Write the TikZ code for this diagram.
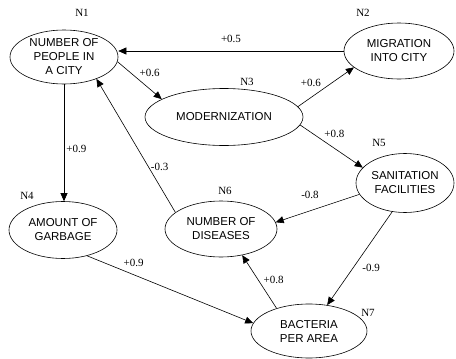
\documentclass[tikz,border=0pt]{standalone}
\usepackage{fontspec}
\setmainfont{Liberation Serif}
\setsansfont{Liberation Sans}
\usetikzlibrary{shapes.geometric, arrows.meta}

\begin{document}
\begin{tikzpicture}[
    x=1pt, y=-1pt,
    box/.style={ellipse, draw, line width=0.6pt, inner sep=0pt, align=center,
        font=\sffamily\fontsize{11.5}{14}\selectfont},
    tag/.style={inner sep=0pt, font=\rmfamily\fontsize{11}{13}\selectfont},
    weight/.style={inner sep=2pt, font=\rmfamily\fontsize{11}{13}\selectfont},
    link/.style={draw, line width=0.6pt, -{Triangle[length=8pt,width=7pt]}}
]
\path[use as bounding box, fill=white] (0,0) rectangle (456,359);

% factors
\node[box, minimum width=108pt, minimum height=54pt] (n1) at (64,57) {NUMBER OF\\PEOPLE IN\\A CITY};
\node[box, minimum width=110pt, minimum height=56pt] (n2) at (399,51) {MIGRATION\\INTO CITY};
\node[box, minimum width=158pt, minimum height=57pt] (n3) at (224,117) {MODERNIZATION};
\node[box, minimum width=108pt, minimum height=57pt] (n4) at (63,230) {AMOUNT OF\\GARBAGE};
\node[box, minimum width=98pt, minimum height=59pt] (n5) at (405,183) {SANITATION\\FACILITIES};
\node[box, minimum width=112pt, minimum height=56pt] (n6) at (221,229) {NUMBER OF\\DISEASES};
\node[box, minimum width=116pt, minimum height=54pt] (n7) at (309,331) {BACTERIA\\PER AREA};

% node numbers
\node[tag] (t1) at (82,13) {N1};
\node[tag] (t2) at (363,13) {N2};
\node[tag] (t3) at (247,82) {N3};
\node[tag] (t4) at (27,196) {N4};
\node[tag] (t5) at (379,143) {N5};
\node[tag] (t6) at (225,191) {N6};
\node[tag] (t7) at (368,313) {N7};

% weighted links
\draw[link] (n2.west) -- node[weight, above=6pt] {+0.5} (n2.west -| n1.east);
\draw[link] (n1.-5.6) -- node[weight, pos=.45, above right] {+0.6} (n3.164);
\draw[link] (n3.8.5) -- node[weight, pos=.45, above left] {+0.6} (n2.200);
\draw[link] (n3.-6) -- node[weight, pos=.35, above right] {+0.8} (n5.160);
\draw[link] (n1.south) -- node[weight, pos=.55, right] {+0.9} (n1.south |- n4.north);
\draw[link] (n6.160.5) -- node[weight, pos=.34, right] {-0.3} (n1.-34);
\draw[link] (n5.194.6) -- node[weight, pos=.59, above=10pt] {-0.8} (n6.7.7);
\draw[link] (n5.246) -- node[weight, pos=.6, right=7pt] {-0.9} (n7.55);
\draw[link] (n7.145) -- node[weight, pos=.53, right=3pt] {+0.8} (n6.-51);
\draw[link] (n4.-47) -- node[weight, pos=.28, above=6pt] {+0.9} (n7.172.5);
\end{tikzpicture}
\end{document}
